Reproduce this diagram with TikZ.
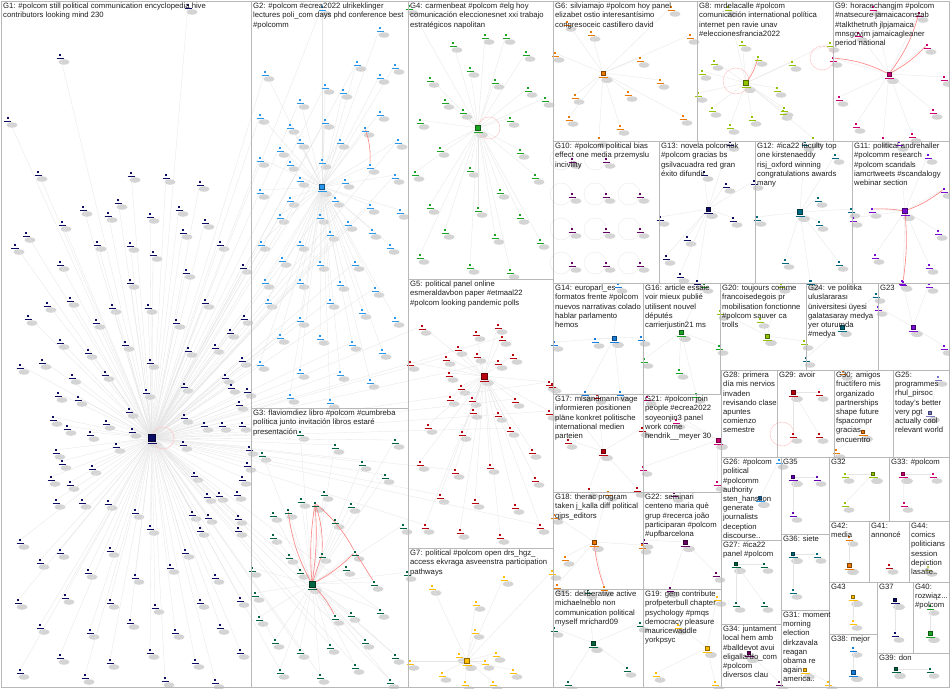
\documentclass[tikz,border=0pt]{standalone}
\usepackage{fontspec}
\setmainfont{Liberation Sans}
\pgfdeclarelayer{fond}
\pgfsetlayers{fond,main}
\definecolor{cNavy}{RGB}{12,12,100}
\definecolor{cSky}{RGB}{40,150,235}
\definecolor{cBlue}{RGB}{20,125,220}
\definecolor{cDkGreen}{RGB}{0,100,62}
\definecolor{cGreen}{RGB}{25,165,35}
\definecolor{cDkRed}{RGB}{185,0,15}
\definecolor{cOrange}{RGB}{235,120,0}
\definecolor{cGold}{RGB}{255,190,0}
\definecolor{cLime}{RGB}{145,195,0}
\definecolor{cPale}{RGB}{190,215,90}
\definecolor{cMagenta}{RGB}{205,0,115}
\definecolor{cPlum}{RGB}{100,0,100}
\definecolor{cPurple}{RGB}{100,0,180}
\definecolor{cTeal}{RGB}{0,105,125}
\definecolor{cViolet}{RGB}{120,10,210}
\definecolor{cLav}{RGB}{120,120,200}

% groups: name / colour / hub size / hub x / hub y / other vertices
\def\groupes{%
g1/cNavy/7/152/438/{(188,5),(60,55),(8,118),(131,173),(166,175),(200,182),(38,172),(118,200),(83,207),(179,207),(108,213),(150,214),(62,222),(205,220),(26,233),(183,230),(97,242),(130,243),(15,245),(220,242),(153,252),(60,262),(243,265),(186,270),(130,280),(70,298),(205,300),(47,303),(112,305),(148,305),(28,316),(176,320),(96,320),(244,316),(230,330),(60,340),(125,342),(88,350),(188,348),(215,345),(150,360),(242,358),(42,360),(20,365),(72,375),(225,375),(105,372),(58,393),(78,397),(146,390),(184,384),(231,385),(247,389),(239,402),(129,409),(53,417),(106,421),(184,415),(204,423),(222,423),(242,423),(67,426),(90,432),(132,429),(183,442),(116,444),(56,450),(62,461),(249,447),(92,466),(247,463),(194,473),(51,477),(70,482),(242,477),(207,494),(219,493),(237,492),(56,500),(82,500),(108,501),(135,510),(192,512),(208,515),(238,516),(150,526),(200,528),(238,528),(20,540),(60,550),(110,548),(185,550),(40,560),(88,570),(135,575),(170,565),(215,575),(18,600),(65,595),(110,600),(155,605),(200,600),(240,598),(40,625),(90,630),(130,620),(175,630),(220,625),(60,655),(110,660),(150,650),(195,660),(240,650),(20,670),(85,675),(165,678),(215,680)},
g2/cSky/5/322/187/{(322,7),(380,28),(357,62),(395,65),(265,72),(380,75),(325,85),(343,90),(300,100),(380,112),(260,115),(290,125),(325,120),(365,128),(398,140),(300,140),(340,140),(280,148),(260,158),(290,162),(322,160),(370,165),(395,175),(300,178),(345,180),(260,190),(290,198),(335,198),(370,205),(400,210),(280,215),(320,215),(348,222),(372,230),(261,242),(300,242),(330,232),(390,245),(282,258),(320,262),(355,262),(265,280),(300,280),(340,282),(375,288),(268,300),(330,300),(362,310),(300,318),(395,318),(280,335),(320,336),(352,342),(382,350),(260,362),(300,370),(340,372),(370,380),(290,395),(330,400)},
g3/cDkGreen/6/312/584/{(324,492),(315,503),(301,499),(288,510),(273,513),(335,520),(351,504),(403,525),(273,535),(289,555),(322,554),(355,552),(300,570),(346,567),(252,568),(255,593),(374,582),(407,572),(335,616),(351,613),(259,617),(300,432),(335,445),(262,453),(385,475),(395,440),(362,462),(275,640),(300,650),(330,645),(365,640),(395,655),(280,670),(320,675),(355,665),(390,680),(380,610)},
g4/cGreen/5/478/128/{(409,6),(453,43),(485,35),(506,35),(526,52),(470,68),(430,78),(495,80),(528,88),(445,100),(545,98),(420,120),(463,110),(510,118),(440,148),(520,150),(470,168),(415,172),(535,175),(500,190),(478,208),(430,205),(520,215),(445,230),(495,235),(540,240),(420,255),(470,265),(510,270)},
g5/cDkRed/6/484/376/{(422,326),(476,332),(498,325),(502,337),(458,347),(477,354),(446,357),(513,355),(410,362),(498,361),(449,373),(461,386),(549,382),(450,397),(472,398),(515,399),(473,410),(498,413),(549,411),(428,425),(462,432),(510,428),(532,450),(420,462),(455,470),(490,465),(535,478),(440,495),(475,500),(515,505),(425,525),(460,530),(500,535),(540,525)},
g6/cOrange/4.5/603/73/{(671,7),(567,22),(591,32),(690,35),(555,53),(640,58),(575,95),(628,92),(660,80),(569,117),(620,126),(683,116),(599,138)},
g7/cGold/5/467/661/{(432,586),(504,577),(476,602),(475,630),(459,654),(496,653),(485,661),(410,661),(442,673),(513,670),(465,682),(493,682),(552,571)},
g8/cLime/5/746/83/{(728,7),(742,42),(714,61),(758,57),(792,62),(702,71),(777,88),(698,93),(784,108),(712,108),(730,125),(752,117),(783,111),(813,138),(830,43)},
g9/cMagenta/4/889/74/{(873,7),(919,13),(858,33),(927,45),(833,58),(944,77),(839,97),(933,110),(856,124),(912,134),(883,138)},
g13/cNavy/4/708/209/{(730,142),(704,172),(726,184),(754,181),(733,218),(660,217),(687,237),(666,256),(680,274),(697,281)},
g12/cTeal/5/800/212/{(805,142),(835,155),(818,198),(819,222),(757,217),(851,209),(785,260),(839,262),(810,281)},
g11/cViolet/5/905/211/{(899,142),(928,155),(944,189),(872,209),(853,218),(938,231),(875,255),(929,265),(903,282)},
g14/cBlue/4.5/614/338/{(595,339),(641,337),(554,342),(585,392),(620,392),(618,284)},
g16/cGreen/4.5/681/332/{(644,359),(679,370),(696,394),(719,346),(704,284)},
g20/cLime/4/767/336/{(804,341),(720,311),(781,284),(760,319)},
g24/cTeal/3.5/842/327/{(876,294),(806,358),(811,281)},
g23/cViolet/3.5/913/327/{(878,307),(944,346),(929,284),(902,281)},
g17/cDkRed/4.5/603/451/{(568,440),(642,428),(597,395),(552,384),(589,489),(637,488)},
g21/cMagenta/3.5/718/440/{(643,467),(647,397),(717,482),(676,420)},
g18/cOrange/3.5/594/542/{(608,492),(642,545),(565,557),(557,585),(604,587),(554,515)},
g22/cPlum/4.5/685/542/{(674,493),(716,573),(644,540),(670,588)},
g15/cDkGreen/4/593/643/{(627,668),(568,682),(554,628),(640,623),(588,590)},
g19/cGold/4.5/707/648/{(656,673),(678,625),(715,682),(717,597)},
g29/cDkRed/3.5/793/392/{(819,392),(793,434),(819,434)},
g30/cOrange/3/863/432/{(843,371),(836,450)},
g25/cLav/3/930/413/{(938,377)},
g26/cSky/3/760/498/{(779,460)},
g35/cPurple/3/793/477/{(817,477),(793,513)},
g32/cLime/3/873/474/{(845,474),(845,503)},
g33/cMagenta/3/903/474/{(933,474),(904,503)},
g27/cDkGreen/3/736/564/{(764,564),(736,603),(764,603)},
g36/cTeal/3/793/554/{(817,554),(793,590)},
g42/cOrange/3.5/849/565/{(849,537)},
g43/cGold/3/853/597/{(853,621)},
g37/cNavy/3/895/600/{(895,633)},
g40/cGreen/3.5/930/633/{(930,606)},
g38/cBlue/3.5/853/672/{(853,648)},
g39/cDkGreen/3/896/669/{(930,669)},
g34/cPlum/3/749/653/{(779,682)},
g31/cGold/3/805/670/{(828,682)}}

\begin{document}
\begin{tikzpicture}[x=1pt,y=-1pt]
\tikzset{panneau/.style={draw=black!28,line width=0.7pt},
groupe/.style={anchor=north west,inner sep=0pt,align=left,text=black!88,
  font=\fontsize{7.7}{9.2}\selectfont},
sommet/.style={rectangle,fill=#1,inner sep=0pt,minimum size=2.8pt,
  label={[inner sep=0pt,label distance=1.2pt]below:{\color{#1}\rule{7pt}{0.8pt}}}},
pivot/.style={rectangle,fill=#1,draw=#1!55!black,line width=0.5pt,inner sep=0pt,
  label={[inner sep=0pt,label distance=1.3pt]below:{\color{#1}\rule{9pt}{0.9pt}}}},
lien/.style={draw=black!10,line width=0.3pt},
lienrouge/.style={draw=red!50,line width=0.6pt},
boucle/.style={draw=red!22,line width=0.5pt},
ombre/.style={fill=black!17}}

\useasboundingbox (0,0) rectangle (950,688);

% vertices
\foreach \gn/\gc/\gs/\hx/\hy/\gp in \groupes {
  \node[pivot=\gc,minimum size=\gs pt] (\gn h) at (\hx,\hy) {};
  \foreach \p [count=\i] in \gp
    \node[sommet=\gc] (\gn-\i) at \p {};
}
\foreach \p [count=\i] in {(572,159),(606,159),(572,194),(606,194),(640,194),(572,229),(606,229),(640,229),(572,263),(606,263),(640,263)}
  \node[sommet=cPlum] (g10-\i) at \p {};
\node[sommet=cDkRed] (g41h) at (889,565) {};
\node[sommet=cPale] (g44h) at (928,567) {};

% shadows and edges behind
\begin{pgfonlayer}{fond}
\fill[white] (0,0) rectangle (950,688);
\foreach \gn/\gc/\gs/\hx/\hy/\gp in \groupes {
  \fill[ombre] ([xshift=4pt,yshift=-7pt]\gn h) ellipse (6pt and 3pt);
  \foreach \p [count=\i] in \gp {
    \fill[ombre] ([xshift=4pt,yshift=-7pt]\gn-\i) ellipse (5.5pt and 2.8pt);
    \draw[lien] (\gn h) -- (\gn-\i);
  }
}
\foreach \i in {1,...,11} {
  \fill[ombre] ([xshift=4pt,yshift=-7pt]g10-\i) ellipse (5.5pt and 2.8pt);
  \draw[lien] ([xshift=-11pt]g10-\i.center) circle (11pt);
}
\foreach \n in {g41h,g44h}
  \fill[ombre] ([xshift=4pt,yshift=-7pt]\n) ellipse (5.5pt and 2.8pt);
\foreach \j in {1,3,...,59} \draw[lien] (g1h) -- (g2-\j);
\foreach \j in {22,...,37} \draw[lien] (g1h) -- (g3-\j);
\foreach \j in {1,4,...,34} \draw[lien] (g1h) -- (g5-\j);
\draw[boucle] ([xshift=11pt]g1h.center) circle (11pt);
\draw[boucle] ([xshift=11pt]g4h.center) circle (11pt);
\draw[boucle] ([xshift=-10pt,yshift=2pt]g8h.center) circle (13pt);
\draw[boucle] ([xshift=-11pt]g9-5.center) circle (12pt);
\draw[boucle] ([xshift=-11pt]g29-2.center) circle (12pt);
\draw[lienrouge] (g3h) to[bend left=6] (g3-2);
\draw[lienrouge] (g3h) to[bend right=6] (g3-2);
\draw[lienrouge] (g3h) to[bend left=10] (g3-4);
\draw[lienrouge] (g3h) to[bend right=8] (g3-12);
\draw[lienrouge] (g3h) to[bend left=8] (g3-19);
\draw[lienrouge] (g3h) -- (g3-11);
\draw[lienrouge] (g3-2) to[bend left=10] (g3-11);
\draw[lienrouge] (g3-2) to[bend left=10] (g3-12);
\draw[lienrouge] (g3-12) -- (g3-17);
\draw[lienrouge] (g2-14) to[bend left=10] (g2-22);
\draw[lienrouge] (g8h) to[bend right=10] (g8-4);
\draw[lienrouge] (g9h) to[bend right=10] (g9-2);
\draw[lienrouge] (g9h) to[bend right=8] (g9-4);
\draw[lienrouge] (g9h) to[bend right=10] (g9-5);
\draw[lienrouge] (g11h) to[bend right=5] (g11-4);
\draw[lienrouge] (g11h) to[bend right=8] (g11-3);
\draw[lienrouge] (g11h) to[bend left=6] (g11-9);
\draw[lienrouge] (g18h) to[bend right=6] (g18-5);
\end{pgfonlayer}

% panels
\foreach \xa/\ya/\xb/\yb in {1/1/251/687,251/1/408/408,251/408/408/687,408/1/553/279,408/279/553/548,408/548/553/687,553/1/697/141,697/1/833/141,833/1/949/141,553/141/659/283,659/141/755/283,755/141/852/283,852/141/949/283,553/283/643/394,643/283/720/394,720/283/806/370,806/283/878/370,878/283/949/370,553/394/643/492,643/394/721/492,721/370/777/457,777/370/834/457,834/370/893/457,893/370/949/457,553/492/643/589,643/492/721/589,553/589/643/687,643/589/721/687,721/457/781/540,721/540/781/624,721/624/781/687,781/457/829/534,781/534/829/610,781/610/829/687,829/457/889/521,889/457/949/521,829/521/869/582,869/521/909/582,909/521/949/582,829/582/877/634,829/634/877/687,877/582/913/653,913/582/949/653,877/653/949/687}
  \draw[panneau] (\xa,\ya) rectangle (\xb,\yb);

\node[groupe] (tG1) at (3,3) {G1: \#polcom still political communication encyclopedia hive\\contributors looking mind 230};
\node[groupe] (tG2) at (253,3) {G2: \#polcom \#ecrea2022 ulrikeklinger\\lectures poli\_com days phd conference best\\\#polcomm};
\node[groupe] (tG3) at (253,410) {G3: flaviomdiez libro \#polcom \#cumbreba\\política junto invitación libros estaré\\presentación};
\node[groupe] (tG4) at (410,3) {G4: carmenbeat \#polcom \#elg hoy\\comunicación eleccionesnet xxi trabajo\\estratégicos napolitan};
\node[groupe] (tG5) at (410,281) {G5: political panel online\\esmeraldavbon paper \#etmaal22\\\#polcom looking pandemic polls};
\node[groupe] (tG6) at (555,3) {G6: silviamajo \#polcom hoy panel\\elizabet ostio interesantísimo\\congresoceic castillero david};
\node[groupe] (tG7) at (410,550) {G7: political \#polcom open drs\_hgz\_\\access ekvraga asveenstra participation\\pathways};
\node[groupe] (tG8) at (699,3) {G8: mrdelacalle \#polcom\\comunicación international política\\internet pen ravie unav\\\#eleccionesfrancia2022};
\node[groupe] (tG9) at (835,3) {G9: horacechangjm \#polcom\\\#natsecure jamaicaconstab\\\#talkthetruth jlpjamaica\\mnsgovjm jamaicagleaner\\period national};
\node[groupe] (tG10) at (555,143) {G10: \#polcom political bias\\effect one media przemyslu\\incivility};
\node[groupe] (tG13) at (661,143) {G13: novela polcomok\\\#polcom gracias bs\\gsilvacuadra red gran\\éxito difundir};
\node[groupe] (tG12) at (757,143) {G12: \#ica22 faculty top\\one kirstenaeddy\\risj\_oxford winning\\congratulations awards\\many};
\node[groupe] (tG11) at (854,143) {G11: political andrehaller\\\#polcomm research\\\#polcom scandals\\iamcrtweets \#scandalogy\\webinar section};
\node[groupe] (tG14) at (555,285) {G14: europarl\_es\\formatos frente \#polcom\\nuevos narrativas colado\\hablar parlamento\\hemos};
\node[groupe] (tG16) at (645,285) {G16: article essaie\\voir mieux publié\\utilisent nouvel\\députés\\carrierjustin21 ms};
\node[groupe] (tG20) at (722,285) {G20: toujours comme\\francoisedegois pr\\mobilisation fonctionne\\\#polcom sauver ca\\trolls};
\node[groupe] (tG24) at (808,285) {G24: ve politika\\uluslararası\\üniversitesi üyesi\\galatasaray medya\\yer oturumda\\\#medya};
\node[groupe] (tG23) at (880,285) {G23};
\node[groupe] (tG17) at (555,396) {G17: mlsandmann vage\\informieren positionen\\pläne konkret politische\\international medien\\parteien};
\node[groupe] (tG21) at (645,396) {G21: \#polcom join\\people \#ecrea2022\\soyeonjin3 panel\\work come\\hendrik\_\_meyer 30};
\node[groupe] (tG28) at (723,372) {G28: primera\\día mis nervios\\invaden\\revisando clase\\apuntes\\comienzo\\semestre};
\node[groupe] (tG29) at (779,372) {G29: avoir};
\node[groupe] (tG30) at (836,372) {G30: amigos\\fructífero mis\\organizado\\partnerships\\shape future\\fspacompr\\gracias\\encuentro};
\node[groupe] (tG25) at (895,372) {G25:\\programmes\\rhul\_pirsoc\\today's better\\very pgt\\actually cool\\relevant world};
\node[groupe] (tG18) at (555,494) {G18: therac program\\taken j\_kalla diff political\\qjps\_editors};
\node[groupe] (tG22) at (645,494) {G22: seminari\\centeno maria què\\grup \#recerca joão\\participaran \#polcom\\\#upfbarcelona};
\node[groupe] (tG26) at (723,459) {G26: \#polcom\\political\\\#polcomm\\authority\\sten\_hansson\\generate\\journalists\\deception\\discourse..};
\node[groupe] (tG35) at (783,459) {G35};
\node[groupe] (tG32) at (831,459) {G32};
\node[groupe] (tG33) at (891,459) {G33: \#polcom};
\node[groupe] (tG27) at (723,542) {G27: \#ica22\\panel \#polcom};
\node[groupe] (tG36) at (783,536) {G36: siete};
\node[groupe] (tG42) at (831,523) {G42:\\media};
\node[groupe] (tG41) at (871,523) {G41:\\annoncé};
\node[groupe] (tG44) at (911,523) {G44:\\comics\\politicians\\session\\depiction\\lasalle..};
\node[groupe] (tG43) at (831,584) {G43};
\node[groupe] (tG37) at (879,584) {G37};
\node[groupe] (tG40) at (915,584) {G40:\\rozwiąz...\\\#polcom};
\node[groupe] (tG15) at (555,591) {G15: deliberative active\\michaelneblo non\\communication political\\myself mrichard09};
\node[groupe] (tG19) at (645,591) {G19: gem contribute\\profpeterbull chapter\\psychology \#pmqs\\democracy pleasure\\mauricewaddle\\yorkpsyc};
\node[groupe] (tG34) at (723,626) {G34: juntament\\local hem amb\\\#balldevot avui\\eligallardo\_com\\\#polcom\\diversos clau};
\node[groupe] (tG31) at (783,612) {G31: moment\\morning\\election\\dirkzavala\\reagan\\obama re\\again\\america..};
\node[groupe] (tG38) at (831,636) {G38: mejor};
\node[groupe] (tG39) at (879,655) {G39: don};
\end{tikzpicture}
\end{document}
